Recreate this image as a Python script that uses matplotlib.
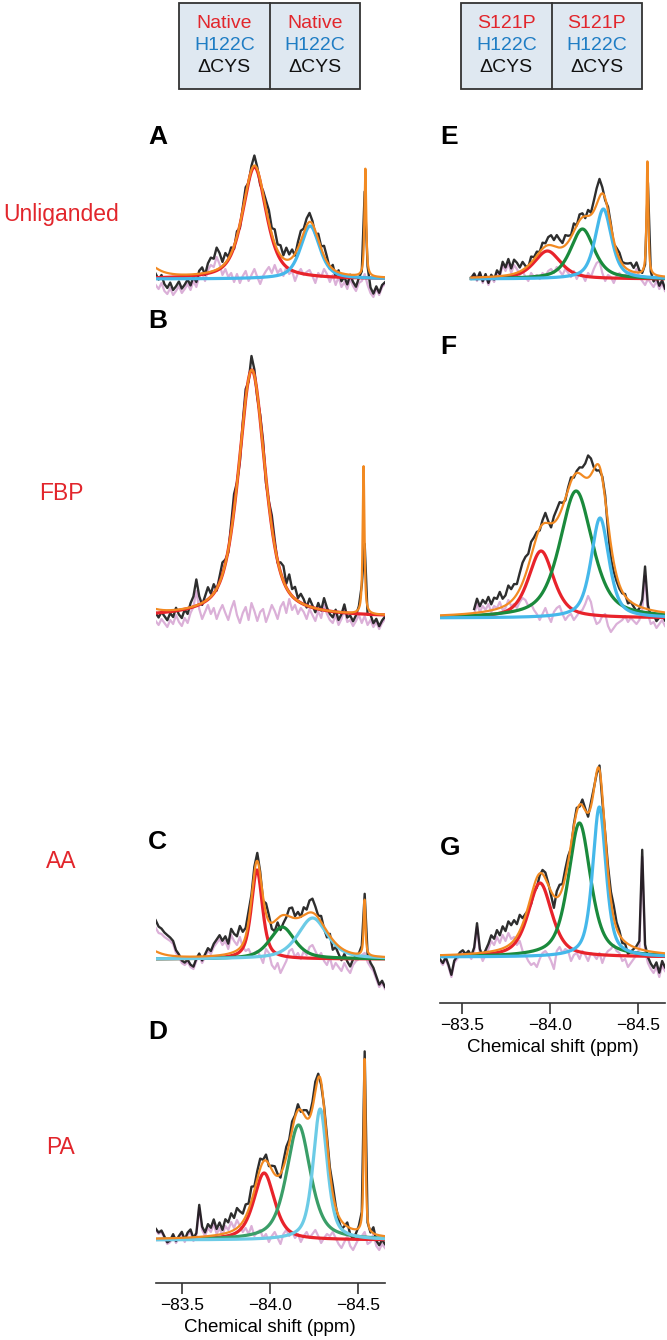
import numpy as np
import matplotlib
matplotlib.use('Agg')
import matplotlib.pyplot as plt
from matplotlib.patches import Rectangle

plt.rcParams['font.family'] = ['Liberation Sans', 'DejaVu Sans']

W, H = 667, 1340

# ---- data ----
panels = ['A', 'B', 'C', 'D', 'E', 'F', 'G']
conditions = ['Unliganded', 'FBP', 'AA', 'PA']
header_top = ['Native', 'Native', 'S121P', 'S121P']
header_mid = ['H122C', 'H122C', 'H122C', 'H122C']
header_bot = ['\u0394CYS', '\u0394CYS', '\u0394CYS', '\u0394CYS']

xticks = [-83.5, -84.0, -84.5]
xtick_labels = ['\u221283.5', '\u221284.0', '\u221284.5']
xlabel = 'Chemical shift (ppm)'

# fitted components: centre (ppm), height (a.u.), FWHM (ppm)
red_pos = [-83.912, -83.897, -83.926, -83.967, -83.985, -83.949, -83.943]
red_amp = [112, 247, 89, 67, 28, 67, 74]
red_fwhm = [0.16, 0.18, 0.075, 0.14, 0.18, 0.17, 0.16]

green_pos = [None, None, -84.070, -84.163, -84.184, -84.148, -84.167]
green_amp = [0, 0, 32, 115, 50, 127, 134]
green_fwhm = [0, 0, 0.17, 0.16, 0.16, 0.22, 0.15]

blue_pos = [-84.229, None, -84.243, -84.286, -84.303, -84.284, -84.280]
blue_amp = [53, 0, 41, 131, 70, 100, 150]
blue_fwhm = [0.13, 0, 0.20, 0.095, 0.11, 0.12, 0.09]

# sharp reference line (only fitted in A-E)
ref_pos = [-84.543, -84.533, -84.539, -84.539, -84.553, None, None]
ref_amp = [108, 148, 56, 175, 114, 0, 0]

# broad term rising at the left edge of the total fit
edge_amp = [14, 6, 10, 0, 0, 0, 0]

# start of recorded trace (ppm)
trace_start = [-83.35, -83.35, -83.35, -83.35, -83.553, -83.569, -83.375]

# residuals (data - fit), same units
resid_A = [-6, -10, -4, -12, -15, -9, -16, -12, -7, -14, -10, -5, -11, -2, -8, 3,
           6, -2, 9, 14, 12, 22, 15, 4, 10, 2, 6, -3, 5, -4, 3, 8, -2, 4, 10, 2,
           -5, 3, 8, 12, 6, 14, 6, 10, 3, 12, 5, 8, -2, 6, 10, 4, 7, 9, 3, -4,
           6, 2, 10, 5, -3, 4, -6, 2, -8, -3, -10, 0, -7, -12, -4, -2, 5, -6,
           -14, -18, -10, -16, -8, -5]
resid_B = [-4, -8, -2, -6, -10, -3, -7, 2, -5, -9, -1, -6, 4, 10, 26, 8, -2,
           5, 12, 3, 9, -2, 6, 12, 4, -3, 8, 16, 2, -6, 4, 10, -3, 14, 6, -4, 5,
           8, -5, 3, 12, 6, -2, 10, 15, 4, 18, 7, 12, 3, 9, 5, -2, 8, 2, -4, 6,
           -1, 12, 3, -3, -6, 2, -8, -2, 8, -5, -3, -9, -4, 2, -6, 1, -8, -3,
           -10, -5, -12, -6, -2]
resid_C = [31, 26, 25, 22, 20, 18, 15, 6, 2, -4, -6, -3, -8, -10, -2, 3, -4,
           2, 8, 5, 12, 16, 20, 14, 18, 10, 24, 18, 14, 22, 12, 8, 10, 4, 6, 8,
           3, -4, 10, 6, -6, -10, -4, -14, -8, -2, 8, 10, 2, 6, 0, 8, 4, 12, 14,
           8, 2, 6, -2, -6, 2, -10, -4, -8, -12, -4, -10, -14, -6, -2, 0, 4, 6,
           -3, -8, -12, -20, -28, -24, -30]
resid_D = [10, 6, 8, 2, -4, -2, 4, -3, 2, 6, -2, 5, 8, -1, 4, 32, 10, 4, 12,
           8, 16, 6, 12, 4, 14, 10, 18, 12, 20, 14, 8, 12, 6, 14, 4, 8, 10, 2,
           6, -2, 4, 8, 2, -4, 6, 10, 4, 8, 2, 6, -2, 4, 8, 2, 6, 10, 4, -3, 2,
           6, 4, 8, 2, -4, -8, -2, 4, -6, -10, -4, 2, 4, 8, -4, -2, 6, -6, -10,
           -4, -8]
resid_E = [0, 4, -2, 5, -4, 3, -6, 2, -3, 6, 2, 14, 8, 16, 6, 14, 10, 4, 8, 2,
           -2, 6, 2, 4, 0, 6, 3, 8, 10, 6, 12, 8, 4, 10, 6, 2, 8, 0, 6, 4, -2,
           6, 2, 10, 16, 18, 6, -2, 4, 2, -4, 3, 6, 2, 4, 6, 8, 4, 10, 2, -2,
           -6, 0, -4, -8, -2, -10, -4, -12]
resid_F = [4, 14, 6, 12, 8, 14, 6, 12, 10, 16, 8, 10, 18, 12, 14, 10, 16, 20,
           18, 12, 14, 8, 4, -2, 4, 10, 2, -4, 6, 10, 12, 4, -2, 2, 4, -2, 2, 6,
           8, 14, 22, 16, 2, -6, -4, 2, 4, -8, -14, -10, -6, -4, -2, 2, -4, 0,
           -3, -6, -2, 8, 42, 4, -6, -4, -10, -6, -2, -8]
resid_G = [-4, -8, -2, -10, -20, -6, -2, 2, 4, 0, 3, -2, 6, 30, 4, -4, 2, 8,
           16, 12, 20, 14, 22, 16, 24, 18, 20, 12, 16, 6, 2, -4, -8, -6, -10,
           -2, 4, 6, 2, -4, -12, 6, 10, 4, 8, 6, -4, 2, 4, -2, 6, 2, -4, 4, 2,
           -2, 4, -6, 2, 6, 8, 12, 6, 4, -4, -2, -10, -6, -2, 2, 8, 100, 6, -6,
           -12, -16, -10, -20, -8, -14]
resids = [resid_A, resid_B, resid_C, resid_D, resid_E, resid_F, resid_G]

# ---- layout (pixels) ----
col_px = [(155.7, 385.0), (440.0, 665.0)]
col_ppm = [(-83.35, -84.655), (-83.375, -84.653)]
panel_col = [0, 0, 0, 0, 1, 1, 1]
baseline_px = [279, 617, 959, 1240, 279, 618, 957]
axis_px = {3: 1283, 6: 1003}
letter_px = [(148, 137), (148, 321), (148, 842), (148, 1032),
             (440, 137), (440, 347), (440, 848)]
cond_px = [(61, 214), (61, 494), (61, 862), (61, 1148)]

RED, GREEN, BLUE, ORANGE = '#e8232b', '#1a8a3c', '#45b8ea', '#f28a22'
PINK = '#dbb0d8'


def pv(x, c, a, w, eta=0.6):
    d = (x - c) / (w / 2)
    return a * (eta / (1 + d ** 2) + (1 - eta) * np.exp(-np.log(2) * d ** 2))


def components(k, x):
    out = []
    out.append(pv(x, red_pos[k], red_amp[k], red_fwhm[k]))
    out.append(pv(x, green_pos[k], green_amp[k], green_fwhm[k]) if green_pos[k] else None)
    out.append(pv(x, blue_pos[k], blue_amp[k], blue_fwhm[k]) if blue_pos[k] else None)
    return out


def total(k, x):
    t = sum(c for c in components(k, x) if c is not None)
    if ref_pos[k]:
        t = t + pv(x, ref_pos[k], ref_amp[k], 0.012, eta=0.8)
    if edge_amp[k]:
        t = t + pv(x, -83.30, edge_amp[k], 0.15, eta=1.0)
    return t


fig = plt.figure(figsize=(W / 100, H / 100), dpi=100)

# overlay for header boxes and labels
ov = fig.add_axes([0, 0, 1, 1])
ov.set_xlim(0, W)
ov.set_ylim(H, 0)
ov.axis('off')

for (x0, x1), tops in [((179, 360), [0, 1]), ((461, 642), [2, 3])]:
    xm = (x0 + x1) / 2
    ov.add_patch(Rectangle((x0, 3), x1 - x0, 86, facecolor='#dfe8f1',
                           edgecolor='#333333', lw=1.3))
    ov.plot([xm, xm], [3, 89], color='#333333', lw=1.3)
    for j, cx in zip(tops, [(x0 + xm) / 2, (xm + x1) / 2]):
        ov.text(cx, 24, header_top[j], color='#e2262c', fontsize=14,
                ha='center', va='center')
        ov.text(cx, 46, header_mid[j], color='#1f7dc4', fontsize=14,
                ha='center', va='center')
        ov.text(cx, 68, header_bot[j], color='#111111', fontsize=14,
                ha='center', va='center')

for name, (lx, ly) in zip(panels, letter_px):
    ov.text(lx, ly, name, fontsize=19, fontweight='bold', ha='left', va='center')
for name, (cx, cy) in zip(conditions, cond_px):
    ov.text(cx, cy, name, fontsize=16.5, color='#e2262c', ha='center', va='center')

for k in range(7):
    c = panel_col[k]
    px0, px1 = col_px[c]
    base = baseline_px[k]
    top = base - 270
    bot = axis_px.get(k, base + 45)
    ax = fig.add_axes([px0 / W, 1 - bot / H, (px1 - px0) / W, (bot - top) / H])
    ax.patch.set_alpha(0)
    ax.set_xlim(*col_ppm[c])
    ax.set_ylim(-(bot - base), base - top)

    r = resids[k]
    xg = np.linspace(trace_start[k], col_ppm[c][1], len(r))
    r = np.array(r, dtype=float)
    ax.plot(xg, r, color=PINK, lw=1.6, zorder=1)
    ax.plot(xg, total(k, xg) + r, color='black', lw=1.7, alpha=0.82, zorder=2)

    fit_start = trace_start[k] if k == 4 else col_ppm[c][0]
    xf = np.linspace(fit_start, col_ppm[c][1], 3000)
    comps = components(k, xf)
    green = '#3a9e68' if k == 3 else GREEN
    blue = '#6ccbe6' if k in (2, 3) else BLUE
    for comp, col in zip(comps, [RED, green, blue]):
        if comp is not None:
            ax.plot(xf, comp, color=col, lw=2.3, zorder=3)
    ax.plot(xf, total(k, xf), color=ORANGE, lw=1.6, zorder=4)

    for s in ['top', 'right', 'left']:
        ax.spines[s].set_visible(False)
    ax.set_yticks([])
    if k in axis_px:
        ax.spines['bottom'].set_linewidth(1.2)
        ax.spines['bottom'].set_color('#333333')
        ax.set_xticks(xticks)
        ax.set_xticklabels(xtick_labels, fontsize=12.5)
        ax.tick_params(axis='x', direction='out', length=8, width=1.2,
                       color='#333333', pad=3)
        ax.set_xlabel(xlabel, fontsize=13.5, labelpad=4)
    else:
        ax.spines['bottom'].set_visible(False)
        ax.set_xticks([])

fig.savefig('out.png', dpi=100)
